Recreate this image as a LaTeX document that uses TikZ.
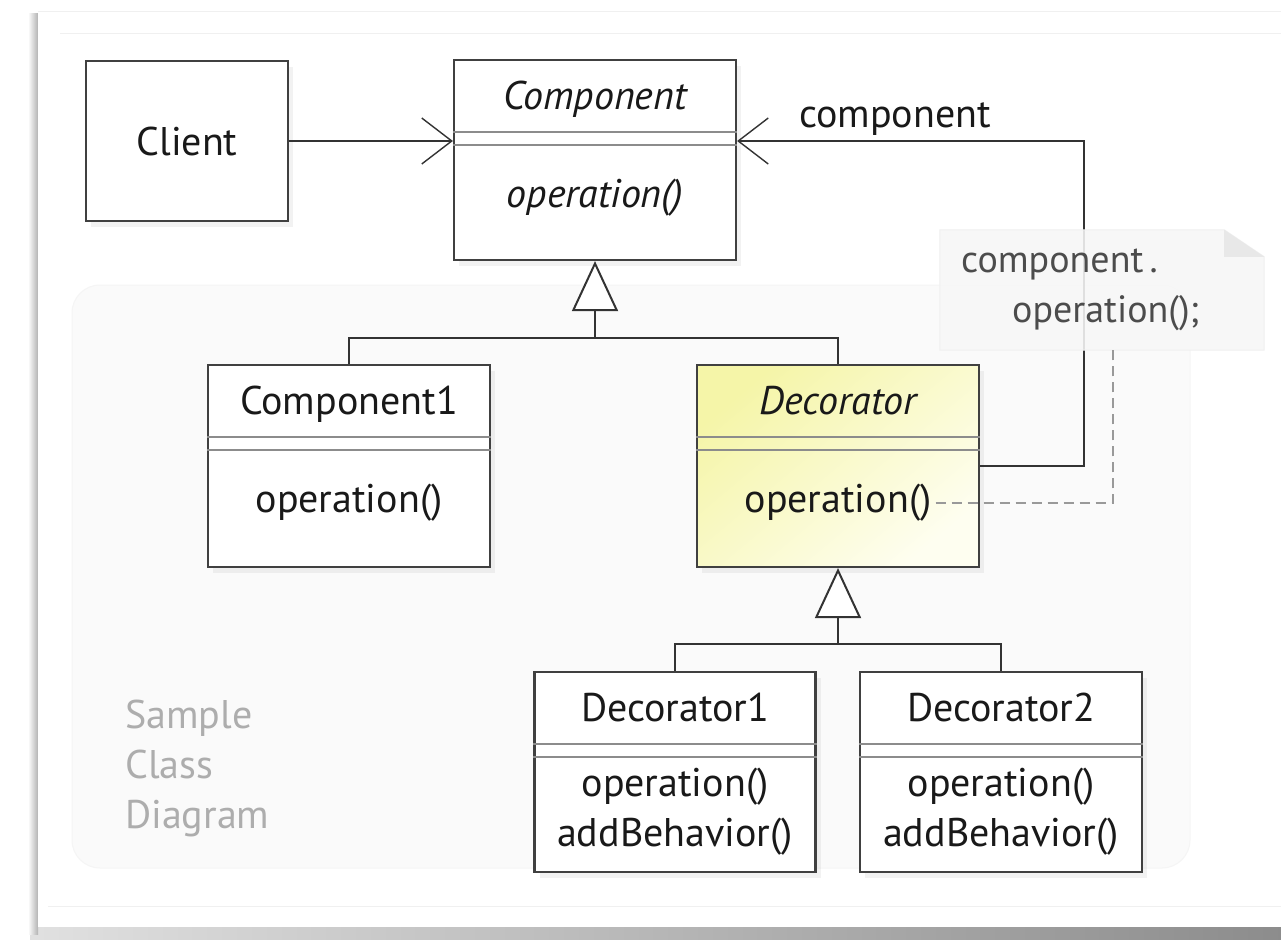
\documentclass[tikz,border=0pt]{standalone}
\usepackage{fontspec}
\setmainfont{PT Sans}
\usetikzlibrary{arrows.meta, calc, shadows}

\tikzset{
  classbox/.style={draw=black!75, line width=2.2pt, fill=white, inner sep=0pt,
    drop shadow={shadow xshift=5pt, shadow yshift=-6pt, opacity=.10}},
  sepline/.style={draw=black!45, line width=1.4pt},
  classtext/.style={text=black!90, font=\fontsize{40}{50}\selectfont, inner sep=4pt, align=center},
  abstract/.style={classtext, font=\fontsize{40}{50}\selectfont\itshape},
  conn/.style={draw=black!80, line width=2.2pt},
  assoc/.style={conn, -{Straight Barb[length=30pt, width=46pt, line width=1.4pt]}},
  inherit/.style={conn, -{Triangle[fill=white, length=50pt, width=46pt, line width=2pt]}},
  noteline/.style={draw=black!40, line width=1.5pt, dash pattern=on 10pt off 6pt},
  notetext/.style={text=black!70, font=\fontsize{38}{50}\selectfont, align=left, inner sep=4pt},
}

\begin{document}
\begin{tikzpicture}[x=1pt, y=-1pt]
	\useasboundingbox (0,0) rectangle (1281,939);

	% paper and its shadow
	\begin{scope}
		\fill[white] (0,0) rectangle (1281,939);
		\shade[left color=black!12, right color=black!45] (30,926) rectangle (1281,939);
		\shade[left color=white, right color=black!30] (28,14) rectangle (38,934);
		\fill[white] (38,12) rectangle (1281,927);
		\draw[black!6, line width=1pt] (38,12) -- (1281,12);
		\draw[black!6, line width=1pt] (60,34) -- (1281,34);
		\draw[black!6, line width=1pt] (48,906) -- (1281,906);
	\end{scope}

	% sample area
	\filldraw[fill=black!2, draw=black!4, line width=1pt, rounded corners=28pt] (72,285) rectangle (1190,868);
	\node[classtext, text=black!32, align=left, anchor=north west] (sample) at (121,696) {Sample\\Class\\Diagram};

	% classes
	\node[classbox, minimum width=202pt, minimum height=160pt] (client) at (187,141) {};
	\node[classbox, minimum width=282pt, minimum height=200pt] (comp) at (595,160) {};
	\node[classbox, minimum width=282pt, minimum height=202pt] (comp1) at (349,466) {};
	\node[classbox, minimum width=282pt, minimum height=202pt,
		top color={rgb,255:red,245;green,245;blue,168},
		middle color={rgb,255:red,251;green,251;blue,220},
		bottom color={rgb,255:red,254;green,254;blue,240}, shading angle=40] (deco) at (838,466) {};
	\node[classbox, minimum width=281pt, minimum height=200pt] (deco1) at (675,772) {};
	\node[classbox, minimum width=282pt, minimum height=200pt] (deco2) at (1001,772) {};

	\foreach \c in {comp, comp1, deco, deco1, deco2}
	{
		\draw[sepline] ([yshift=-73pt]\c.north west) -- ([yshift=-73pt]\c.north east);
		\draw[sepline] ([yshift=-86pt]\c.north west) -- ([yshift=-86pt]\c.north east);
	}

	\node[classtext] (client-name) at (client) {Client};
	\node[abstract, anchor=base] (comp-name) at ([yshift=-51pt]comp.north) {Component};
	\node[abstract, anchor=base] (comp-ops) at ([yshift=-149pt]comp.north) {operation()};
	\node[classtext, anchor=base] (comp1-name) at ([yshift=-51pt]comp1.north) {Component1};
	\node[classtext, anchor=base] (comp1-ops) at ([yshift=-149pt]comp1.north) {operation()};
	\node[abstract, anchor=base] (deco-name) at ([yshift=-51pt]deco.north) {Decorator};
	\node[classtext, anchor=base] (deco-ops) at ([yshift=-149pt]deco.north) {operation()};
	\node[classtext, anchor=base] (deco1-name) at ([yshift=-51pt]deco1.north) {Decorator1};
	\node[classtext] (deco1-ops) at ([yshift=-141pt]deco1.north) {operation()\\addBehavior()};
	\node[classtext, anchor=base] (deco2-name) at ([yshift=-51pt]deco2.north) {Decorator2};
	\node[classtext] (deco2-ops) at ([yshift=-141pt]deco2.north) {operation()\\addBehavior()};

	% associations
	\draw[assoc] (client.east) -- (client.east -| comp.west);
	\coordinate (loop) at (1084,141);
	\draw[assoc] (deco.east) -| (loop) -- (loop -| comp.east);
	\node[classtext, anchor=base west] (comp-role) at (795,128) {component};

	% generalizations
	\coordinate (gen-top) at ($(comp.south)+(0,77)$);
	\draw[conn] (comp1.north) |- (gen-top) -| (deco.north);
	\draw[inherit] (gen-top) -- (comp.south);
	\coordinate (gen-deco) at ($(deco.south)+(0,76)$);
	\draw[conn] (deco1.north) |- (gen-deco) -| (deco2.north);
	\draw[inherit] (gen-deco) -- (deco.south);

	% note
	\node[minimum width=324pt, minimum height=120pt, inner sep=0pt] (note) at (1102,290) {};
	\filldraw[fill=black!3, draw=black!6, line width=1pt, fill opacity=.88]
		(note.south west) |- ([xshift=-40pt]note.north east) -- ([yshift=-27pt]note.north east)
		-- (note.south east) -- cycle;
	\fill[black!9] ([xshift=-40pt]note.north east) -- ++(0,27) -- ++(40,0) -- cycle;
	\node[notetext, anchor=north west] (note-text) at (957,245) {component\,.\\\hspace*{51pt}operation();};
	\draw[noteline] (deco-ops.east) -| ([xshift=11pt]note.south);
\end{tikzpicture}
\end{document}
